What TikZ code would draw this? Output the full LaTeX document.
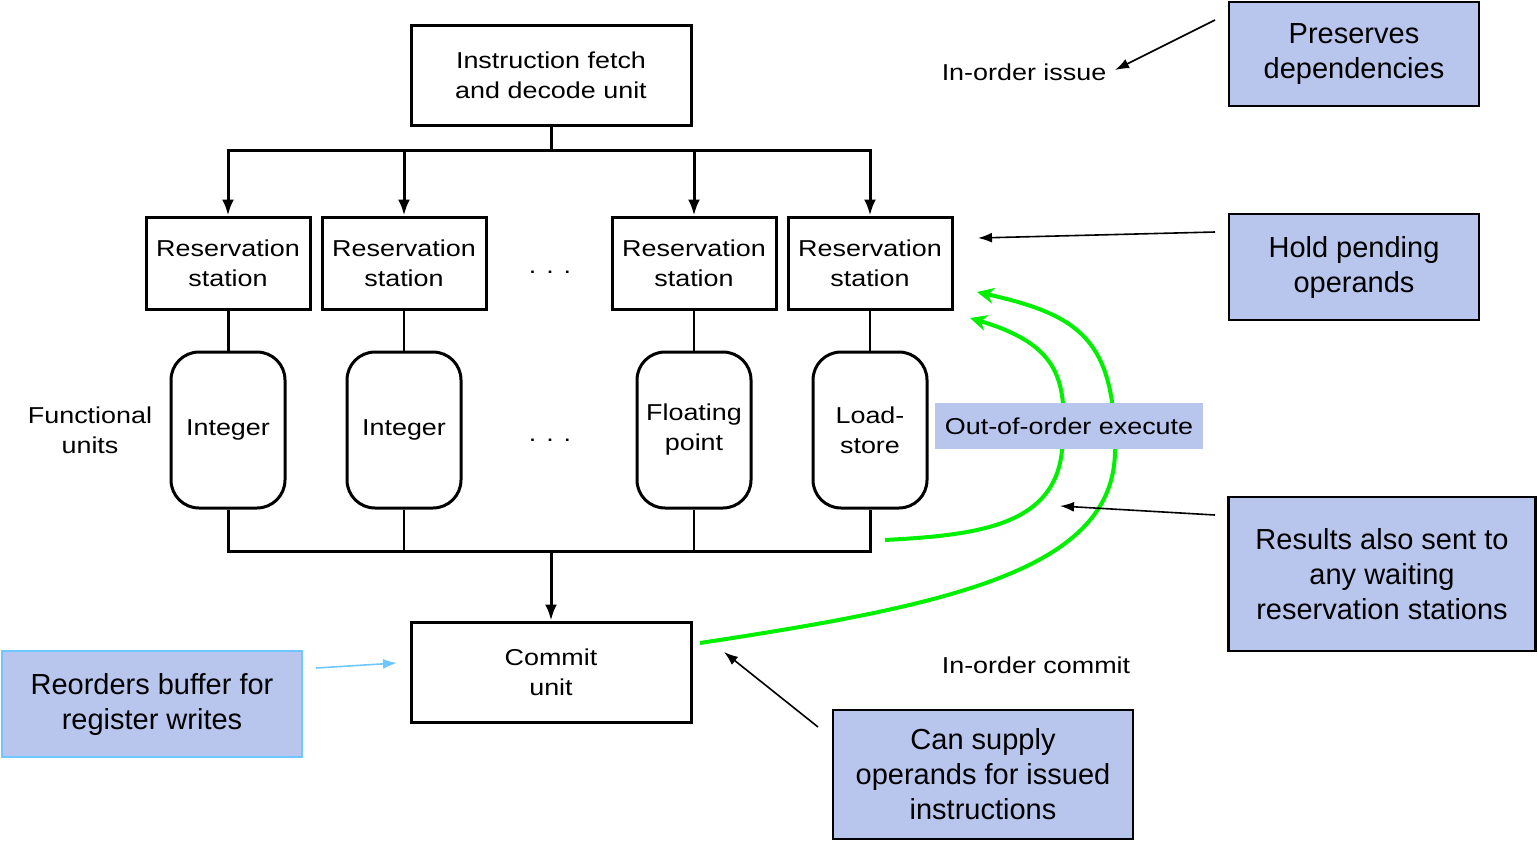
\documentclass[tikz,border=0pt]{standalone}
\usepackage{fontspec}
\setmainfont{Liberation Sans}
\newfontfamily\widef[FakeStretch=1.17]{Liberation Sans}
\usetikzlibrary{arrows.meta}
\definecolor{callfill}{RGB}{184,198,238}
\definecolor{skyb}{RGB}{110,200,255}
\definecolor{grn}{RGB}{0,240,0}
\tikzset{
  box/.style={draw, line width=3pt, inner sep=0pt, align=center, font=\widef\fontsize{23}{30}\selectfont},
  rsbox/.style={box, minimum width=164pt, minimum height=92pt},
  fubox/.style={box, rounded corners=28pt, minimum width=114pt, minimum height=156pt},
  lbl/.style={inner sep=0pt, align=center, font=\widef\fontsize{23}{30}\selectfont},
  callout/.style={draw, line width=2.2pt, fill=callfill, inner sep=0pt, align=center, font=\fontsize{29}{35}\selectfont},
  wire/.style={line width=3pt},
  thinwire/.style={line width=2pt},
  arr/.style={wire, -{Latex[length=16pt,width=12pt]}},
  carr/.style={line width=1.6pt, -{Latex[length=14pt,width=10pt]}},
  garr/.style={line width=4pt, grn, -{Stealth[length=17pt,width=16pt]}},
}
\begin{document}
\begin{tikzpicture}[x=1pt,y=-1pt]
\useasboundingbox (0,0) rectangle (1538,841);

% main units
\node[box, minimum width=280pt, minimum height=100pt] (ifd) at (551,75) {Instruction fetch\\and decode unit};
\node[rsbox] (rs1) at (228,263) {Reservation\\station};
\node[rsbox] (rs2) at (404,263) {Reservation\\station};
\node[rsbox] (rs3) at (694,263) {Reservation\\station};
\node[rsbox] (rs4) at (870,263) {Reservation\\station};
\node[lbl] (dots1) at (550,272) {. . .};

\node[fubox] (fu1) at (228,430) {Integer};
\node[fubox] (fu2) at (404,430) {Integer};
\node[fubox] (fu3) at (694,430) {Floating\\point};
\node[fubox] (fu4) at (870,430) {Load-\\store};
\node[lbl] (dots2) at (550,440) {. . .};
\node[lbl] (funits) at (90,430) {Functional\\units};

\node[box, minimum width=280pt, minimum height=100pt] (commit) at (551,672) {Commit\\unit};

% issue bus
\coordinate (bus) at (551,150);
\draw[wire] (ifd.south) -- (bus);
\draw[arr] (bus) -| (rs1.north);
\draw[arr] (bus) -| (rs4.north);
\draw[arr] (rs2.north |- bus) -- (rs2.north);
\draw[arr] (rs3.north |- bus) -- (rs3.north);

% RS to FU
\draw[wire] (rs1.south) -- (fu1.north);
\draw[thinwire] (rs2.south) -- (fu2.north);
\draw[thinwire] (rs3.south) -- (fu3.north);
\draw[thinwire] (rs4.south) -- (fu4.north);

% result bus
\coordinate (cbus) at (551,551);
\draw[wire] (fu1.south) |- (cbus) -| (fu4.south);
\draw[thinwire] (fu2.south) -- (fu2.south |- cbus);
\draw[thinwire] (fu3.south) -- (fu3.south |- cbus);
\draw[arr] (cbus) -- (commit.north);

% green forwarding paths
\coordinate (gA) at (885,540);
\coordinate (gAe) at (970,318);
\coordinate (gB) at (700,643);
\coordinate (gBe) at (977,292);
\draw[garr] (gA) .. controls (980,535) and (1055,525) .. (1062,450) .. controls (1068,380) and (1060,345) .. (gAe);
\draw[garr] (gB) .. controls (950,605) and (1115,570) .. (1115,450) .. controls (1115,340) and (1080,315) .. (gBe);

\node[lbl, fill=callfill, minimum width=268pt, minimum height=46pt] (ooe) at (1069,426) {Out-of-order execute};

% labels
\node[lbl] (iissue) at (1024,72) {In-order issue};
\node[lbl] (icommit) at (1036,665) {In-order commit};

% callouts
\node[callout, minimum width=250pt, minimum height=104pt] (pres) at (1354,54) {Preserves\\dependencies};
\node[callout, minimum width=250pt, minimum height=106pt] (hold) at (1354,267) {Hold pending\\operands};
\node[callout, minimum width=307pt, minimum height=154pt] (res) at (1382,574) {Results also sent to\\any waiting\\reservation stations};
\node[callout, minimum width=300pt, minimum height=129pt] (can) at (983,774.5) {Can supply\\operands for issued\\instructions};
\node[callout, draw=skyb, minimum width=300pt, minimum height=106pt] (reo) at (152,704) {Reorders buffer for\\register writes};

% callout arrows
\coordinate (c1s) at (1215,20);  \coordinate (c1e) at (1115,70);
\coordinate (c2s) at (1215,232); \coordinate (c2e) at (978,238);
\coordinate (c3s) at (1215,515); \coordinate (c3e) at (1060,506);
\coordinate (c4s) at (818,727);  \coordinate (c4e) at (724,652);
\coordinate (c5s) at (316,668);  \coordinate (c5e) at (397,663);
\draw[carr] (c1s) -- (c1e);
\draw[carr] (c2s) -- (c2e);
\draw[carr] (c3s) -- (c3e);
\draw[carr] (c4s) -- (c4e);
\draw[carr, skyb] (c5s) -- (c5e);
\end{tikzpicture}
\end{document}
